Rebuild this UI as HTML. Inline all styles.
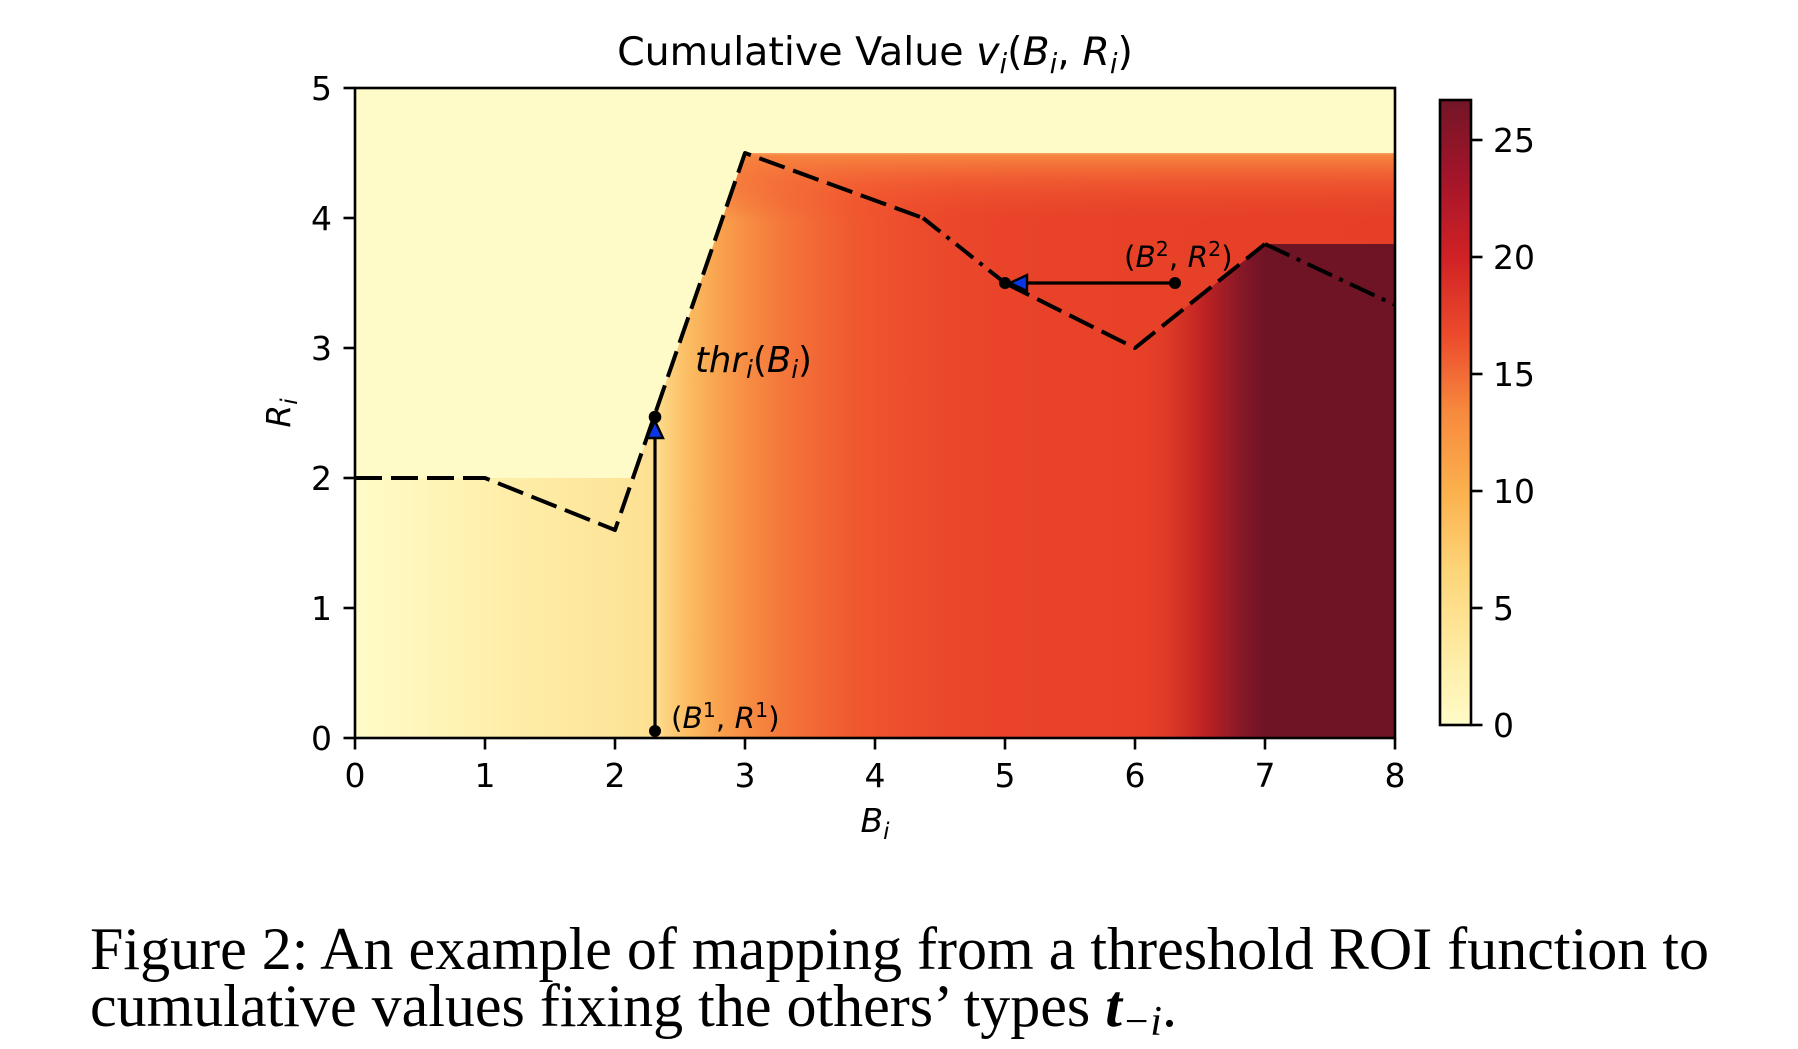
<!DOCTYPE html>
<html>
<head>
<meta charset="utf-8">
<style>
  html,body{margin:0;padding:0;background:#ffffff;}
  svg{display:block;}
  .dj{font-family:"DejaVu Sans","Liberation Sans",sans-serif;fill:#000;}
  .it{font-style:italic;}
  .cap{font-family:"Liberation Serif","DejaVu Serif",serif;fill:#000;}
</style>
</head>
<body>
<svg width="1798" height="1049" viewBox="0 0 1798 1049" xmlns="http://www.w3.org/2000/svg">
  <defs>
    <clipPath id="ax"><rect x="355" y="88" width="1040" height="650"/></clipPath>
    <linearGradient id="g1" gradientUnits="userSpaceOnUse" x1="355" y1="0" x2="1395" y2="0">
      <stop offset="0" stop-color="#fffbc8"/>
      <stop offset="0.0625" stop-color="#fff6bb"/>
      <stop offset="0.125" stop-color="#fff0ad"/>
      <stop offset="0.1875" stop-color="#feeaa2"/>
      <stop offset="0.25" stop-color="#fde59a"/>
      <stop offset="0.289" stop-color="#fddf92"/>
      <stop offset="0.30" stop-color="#fcd27e"/>
      <stop offset="0.32" stop-color="#fbbd62"/>
      <stop offset="0.35" stop-color="#f9a24d"/>
      <stop offset="0.375" stop-color="#f78e44"/>
      <stop offset="0.4125" stop-color="#f4763a"/>
      <stop offset="0.45" stop-color="#f26534"/>
      <stop offset="0.48" stop-color="#f0582f"/>
      <stop offset="0.525" stop-color="#ee4e2d"/>
      <stop offset="0.575" stop-color="#eb472b"/>
      <stop offset="0.625" stop-color="#e9442a"/>
      <stop offset="0.75" stop-color="#e74128"/>
      <stop offset="1" stop-color="#e53f28"/>
    </linearGradient>
    <linearGradient id="g2" gradientUnits="userSpaceOnUse" x1="1135" y1="0" x2="1395" y2="0">
      <stop offset="0" stop-color="#e74128"/>
      <stop offset="0.05" stop-color="#e53f28"/>
      <stop offset="0.125" stop-color="#de3a27"/>
      <stop offset="0.2" stop-color="#cf2e25"/>
      <stop offset="0.275" stop-color="#bb2124"/>
      <stop offset="0.35" stop-color="#9e1c25"/>
      <stop offset="0.41" stop-color="#861827"/>
      <stop offset="0.465" stop-color="#761527"/>
      <stop offset="0.51" stop-color="#6f1424"/>
      <stop offset="1" stop-color="#6e1424"/>
    </linearGradient>
    <linearGradient id="g3" gradientUnits="userSpaceOnUse" x1="0" y1="153" x2="0" y2="220">
      <stop offset="0" stop-color="#f9a060" stop-opacity="1"/>
      <stop offset="0.04" stop-color="#f7843f" stop-opacity="1"/>
      <stop offset="0.4" stop-color="#f46a37" stop-opacity="0.6"/>
      <stop offset="1" stop-color="#f04a2c" stop-opacity="0"/>
    </linearGradient>
    <linearGradient id="cb" gradientUnits="userSpaceOnUse" x1="0" y1="725" x2="0" y2="100">
      <stop offset="0" stop-color="#fffbc8"/>
      <stop offset="0.125" stop-color="#feeaa0"/>
      <stop offset="0.25" stop-color="#fdd478"/>
      <stop offset="0.375" stop-color="#fbb04d"/>
      <stop offset="0.5" stop-color="#f78a3e"/>
      <stop offset="0.625" stop-color="#ec4a2c"/>
      <stop offset="0.75" stop-color="#d02125"/>
      <stop offset="0.875" stop-color="#a3152a"/>
      <stop offset="1" stop-color="#731526"/>
    </linearGradient>
  </defs>

  <!-- Heatmap -->
  <g clip-path="url(#ax)">
    <rect x="355" y="88" width="1040" height="650" fill="url(#g1)"/>
    <polygon points="1135,738 1135,348 1265,244 1395,244 1395,738" fill="url(#g2)"/>
    <rect x="700" y="153" width="695" height="67" fill="url(#g3)"/>
    <polygon points="355,88 355,478 633,478 745,153 1395,153 1395,88" fill="#fffbc8"/>
  </g>

  <!-- threshold curve -->
  <g fill="none" stroke="#000" stroke-width="4" stroke-linecap="butt" stroke-linejoin="round">
    <path d="M355,478 L485,478 L615,530 L745,153 L923,218" stroke-dasharray="27 9"/>
    <path d="M923,218 L1005,283" stroke-dasharray="22 8 4 8"/>
    <path d="M1005,283 L1135,348 L1265,244" stroke-dasharray="27 9"/>
    <path d="M1265,244 L1395,305" stroke-dasharray="27 8 4 8"/>
  </g>

  <!-- arrows -->
  <line x1="655" y1="731" x2="655" y2="438" stroke="#000" stroke-width="3.2"/>
  <polygon points="655,421 647,438 663,438" fill="#0a36e6" stroke="#000" stroke-width="2.4" stroke-linejoin="miter"/>
  <circle cx="655" cy="731" r="6" fill="#000"/>
  <circle cx="655" cy="417" r="6.3" fill="#000"/>

  <line x1="1175" y1="283" x2="1027" y2="283" stroke="#000" stroke-width="3.2"/>
  <polygon points="1010,283 1027,275 1027,291" fill="#0a36e6" stroke="#000" stroke-width="2.4" stroke-linejoin="miter"/>
  <circle cx="1175" cy="283" r="6" fill="#000"/>
  <circle cx="1005" cy="283" r="6" fill="#000"/>

  <!-- annotations -->
  <text class="dj" x="695" y="372" font-size="35.5"><tspan class="it">thr</tspan><tspan class="it" font-size="25" dy="6">i</tspan><tspan dy="-6">(</tspan><tspan class="it">B</tspan><tspan class="it" font-size="25" dy="6">i</tspan><tspan dy="-6">)</tspan></text>
  <text class="dj" x="671" y="728" font-size="29.5">(<tspan class="it">B</tspan><tspan font-size="20.5" dy="-11">1</tspan><tspan dy="11">, </tspan><tspan class="it">R</tspan><tspan font-size="20.5" dy="-11">1</tspan><tspan dy="11">)</tspan></text>
  <text class="dj" x="1124" y="267" font-size="29.5">(<tspan class="it">B</tspan><tspan font-size="20.5" dy="-11">2</tspan><tspan dy="11">, </tspan><tspan class="it">R</tspan><tspan font-size="20.5" dy="-11">2</tspan><tspan dy="11">)</tspan></text>

  <!-- axes frame -->
  <rect x="355" y="88" width="1040" height="650" fill="none" stroke="#000" stroke-width="2.6"/>

  <!-- x ticks -->
  <g stroke="#000" stroke-width="2.6">
    <line x1="355" y1="738" x2="355" y2="749.5"/>
    <line x1="485" y1="738" x2="485" y2="749.5"/>
    <line x1="615" y1="738" x2="615" y2="749.5"/>
    <line x1="745" y1="738" x2="745" y2="749.5"/>
    <line x1="875" y1="738" x2="875" y2="749.5"/>
    <line x1="1005" y1="738" x2="1005" y2="749.5"/>
    <line x1="1135" y1="738" x2="1135" y2="749.5"/>
    <line x1="1265" y1="738" x2="1265" y2="749.5"/>
    <line x1="1395" y1="738" x2="1395" y2="749.5"/>
    <!-- y ticks -->
    <line x1="343.5" y1="738" x2="355" y2="738"/>
    <line x1="343.5" y1="608" x2="355" y2="608"/>
    <line x1="343.5" y1="478" x2="355" y2="478"/>
    <line x1="343.5" y1="348" x2="355" y2="348"/>
    <line x1="343.5" y1="218" x2="355" y2="218"/>
    <line x1="343.5" y1="88" x2="355" y2="88"/>
  </g>
  <g class="dj" font-size="33" text-anchor="middle">
    <text x="355" y="787">0</text>
    <text x="485" y="787">1</text>
    <text x="615" y="787">2</text>
    <text x="745" y="787">3</text>
    <text x="875" y="787">4</text>
    <text x="1005" y="787">5</text>
    <text x="1135" y="787">6</text>
    <text x="1265" y="787">7</text>
    <text x="1395" y="787">8</text>
  </g>
  <g class="dj" font-size="33" text-anchor="end">
    <text x="332" y="750">0</text>
    <text x="332" y="620">1</text>
    <text x="332" y="490">2</text>
    <text x="332" y="360">3</text>
    <text x="332" y="230">4</text>
    <text x="332" y="100">5</text>
  </g>

  <!-- axis labels -->
  <text class="dj" x="875" y="832" font-size="33" text-anchor="middle"><tspan class="it">B</tspan><tspan class="it" font-size="23" dy="7">i</tspan></text>
  <text class="dj" transform="translate(290,413) rotate(-90)" font-size="33" text-anchor="middle"><tspan class="it">R</tspan><tspan class="it" font-size="23" dy="7">i</tspan></text>

  <!-- title -->
  <text class="dj" x="875" y="65" font-size="39.5" text-anchor="middle">Cumulative Value <tspan class="it">v</tspan><tspan class="it" font-size="27.5" dy="8">i</tspan><tspan dy="-8">(</tspan><tspan class="it">B</tspan><tspan class="it" font-size="27.5" dy="8">i</tspan><tspan dy="-8">, </tspan><tspan class="it">R</tspan><tspan class="it" font-size="27.5" dy="8">i</tspan><tspan dy="-8">)</tspan></text>

  <!-- colorbar -->
  <rect x="1440" y="100" width="31" height="625" fill="url(#cb)" stroke="#000" stroke-width="2.6"/>
  <g stroke="#000" stroke-width="2.6">
    <line x1="1471" y1="725" x2="1482.5" y2="725"/>
    <line x1="1471" y1="608" x2="1482.5" y2="608"/>
    <line x1="1471" y1="491" x2="1482.5" y2="491"/>
    <line x1="1471" y1="374" x2="1482.5" y2="374"/>
    <line x1="1471" y1="257" x2="1482.5" y2="257"/>
    <line x1="1471" y1="140" x2="1482.5" y2="140"/>
  </g>
  <g class="dj" font-size="33" text-anchor="start">
    <text x="1493" y="737">0</text>
    <text x="1493" y="620">5</text>
    <text x="1493" y="503">10</text>
    <text x="1493" y="386">15</text>
    <text x="1493" y="269">20</text>
    <text x="1493" y="152">25</text>
  </g>

  <!-- caption -->
  <text class="cap" x="90" y="969" font-size="60" textLength="1619" lengthAdjust="spacing">Figure 2: An example of mapping from a threshold ROI function to</text>
  <text class="cap" x="90" y="1026" font-size="60">cumulative values fixing the others’ types <tspan font-weight="bold" font-style="italic">t</tspan><tspan font-style="italic" font-size="42" dy="9">−i</tspan><tspan dy="-9">.</tspan></text>
</svg>
</body>
</html>
